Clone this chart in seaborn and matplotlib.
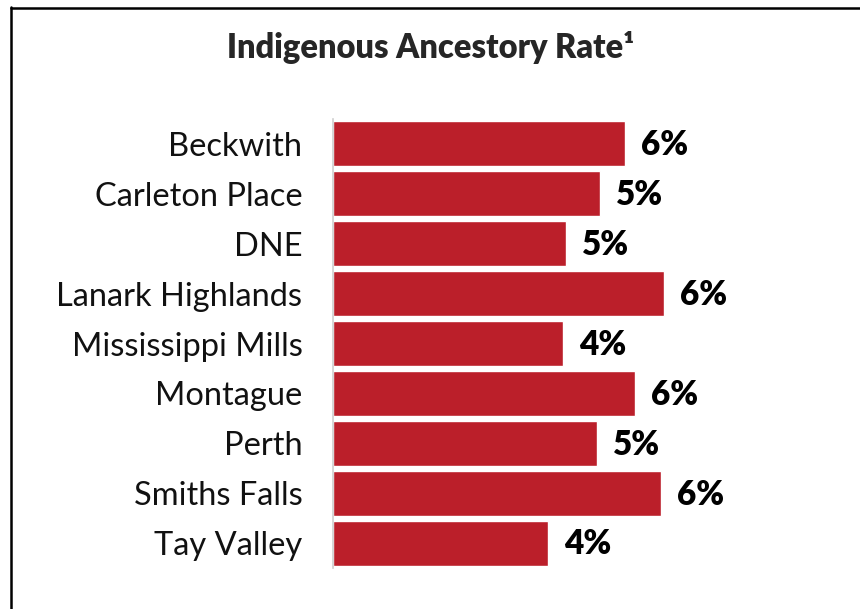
import matplotlib
matplotlib.use("Agg")
import matplotlib.pyplot as plt
import seaborn as sns
import pandas as pd
from matplotlib.lines import Line2D

categories = ["Beckwith", "Carleton Place", "DNE", "Lanark Highlands", "Mississippi Mills",
              "Montague", "Perth", "Smiths Falls", "Tay Valley"]
rates = [5.69, 5.19, 4.53, 6.44, 4.47, 5.88, 5.14, 6.38, 4.18]
title = "Indigenous Ancestory Rate¹"

df = pd.DataFrame({"Municipality": categories, "Rate": rates})

sns.set_theme(style="white")
plt.rcParams['font.family'] = ['Lato', 'DejaVu Sans']

W, H = 860, 609
fig = plt.figure(figsize=(W / 100, H / 100), dpi=100)
ax = fig.add_axes([333 / W, 1 - 568 / H, (850 - 333) / W, (568 - 119) / H])

sns.barplot(data=df, y="Municipality", x="Rate", orient="h", color="#BB1F2A",
            width=0.9, saturation=1, ax=ax, order=categories)

scale = 51.4  # px per percent
ax.set_xlim(0, (850 - 333) / scale)
ax.set_ylim(len(categories) - 0.5, -0.5)

for i, v in enumerate(rates):
    ax.annotate(f"{v:.0f}%", xy=(v, i), xytext=(11.5, -1), textcoords="offset points",
                ha="left", va="center", fontsize=24, fontweight="heavy", color="black")

ax.set_xlabel("")
ax.set_ylabel("")
ax.set_xticks([])
ax.tick_params(axis="y", length=0, pad=22, labelsize=23.5, labelcolor="#111111")
for s in ["top", "right", "bottom"]:
    ax.spines[s].set_visible(False)
ax.spines["left"].set_color("#CFCFCF")
ax.spines["left"].set_linewidth(1.2)

fig.text(431 / W, 1 - 48 / H, title, ha="center", va="center", fontsize=23.5, fontweight="heavy")

# frame lines (top and left)
fig.add_artist(Line2D([10.5 / W, 1.0], [1 - 8 / H, 1 - 8 / H], transform=fig.transFigure,
                      color="black", linewidth=1.8))
fig.add_artist(Line2D([11 / W, 11 / W], [0, 1 - 7 / H], transform=fig.transFigure,
                      color="black", linewidth=1.8))

fig.savefig("out.png", dpi=100)
